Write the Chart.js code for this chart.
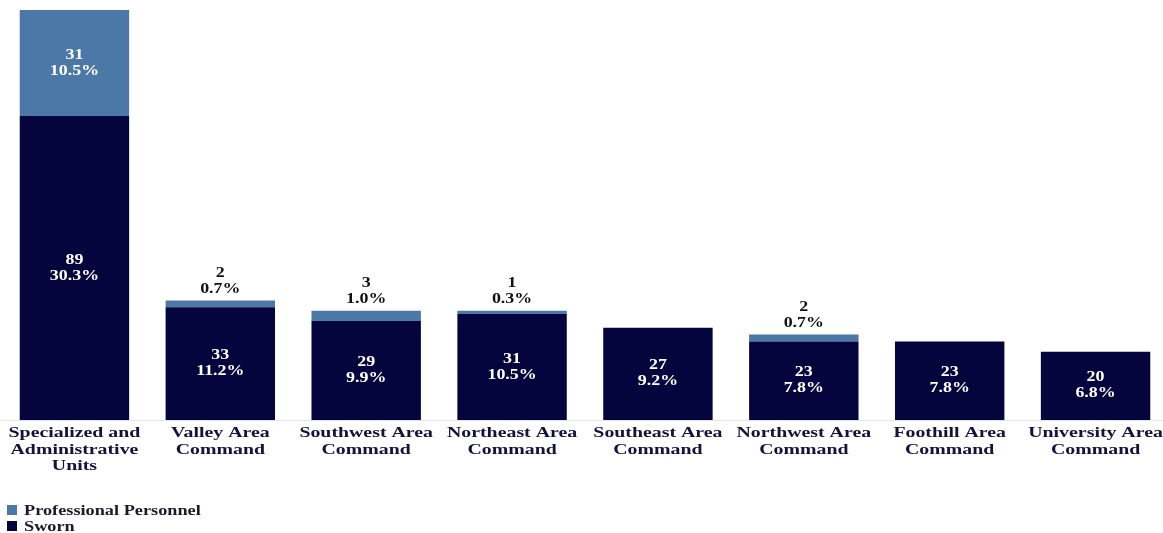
<!DOCTYPE html>
<html><head><meta charset="utf-8">
<script src="https://cdn.jsdelivr.net/npm/chart.js@4.4.0/dist/chart.umd.min.js"></script>
<style>html,body{margin:0;padding:0;background:#fff;overflow:hidden}#wrap{width:1170px;height:533px;position:relative}</style>
</head><body><div id="wrap"><canvas id="c"></canvas></div>
<script>
const categories = [["Specialized and","Administrative","Units"],["Valley Area","Command"],["Southwest Area","Command"],["Northeast Area","Command"],["Southeast Area","Command"],["Northwest Area","Command"],["Foothill Area","Command"],["University Area","Command"]];
const sworn = [89,33,29,31,27,23,23,20];
const swornPct = ["30.3%","11.2%","9.9%","10.5%","9.2%","7.8%","7.8%","6.8%"];
const professional = [31,2,3,1,0,2,0,0];
const professionalPct = ["10.5%","0.7%","1.0%","0.3%","","0.7%","",""];
const seriesNames = ["Professional Personnel","Sworn"];
const COL_PRO = "#4c78a8", COL_SW = "#05053e";
const FONT = "'Liberation Serif','Times New Roman',serif";
const SX = 1.28;

function st(ctx, text, x, y, sx){
  ctx.save(); ctx.translate(x,y); ctx.scale(sx,1); ctx.fillText(text,0,0); ctx.restore();
}

const labelPlugin = {
  id:'labels',
  afterDatasetsDraw(chart){
    const ctx = chart.ctx;
    ctx.save();
    ctx.font = "bold 14px " + FONT;
    ctx.textAlign = 'center'; ctx.textBaseline = 'middle';
    const mSw = chart.getDatasetMeta(0), mPr = chart.getDatasetMeta(1);
    sworn.forEach((v,i)=>{
      const b = mSw.data[i];
      const cy = (b.y + b.base)/2;
      ctx.fillStyle = '#ffffff';
      st(ctx, String(v), b.x, cy-8, SX);
      st(ctx, swornPct[i], b.x, cy+8, SX);
    });
    professional.forEach((v,i)=>{
      if(!v) return;
      const b = mPr.data[i];
      const h = b.base - b.y;
      if (h > 40){
        const cy = (b.y + b.base)/2;
        ctx.fillStyle = '#ffffff';
        st(ctx, String(v), b.x, cy-8, SX);
        st(ctx, professionalPct[i], b.x, cy+8, SX);
      } else {
        ctx.fillStyle = '#111111';
        st(ctx, String(v), b.x, b.y-27, SX);
        st(ctx, professionalPct[i], b.x, b.y-11, SX);
      }
    });
    // category labels
    const xs = chart.scales.x;
    ctx.fillStyle = '#12123c';
    ctx.font = "bold 15.5px " + FONT;
    categories.forEach((lines,i)=>{
      const x = xs.getPixelForValue(i);
      lines.forEach((ln,k)=> st(ctx, ln, x, 433 + k*16.5, SX));
    });
    // legend
    const items = [[seriesNames[0],COL_PRO],[seriesNames[1],COL_SW]];
    ctx.textAlign='left';
    ctx.font = "bold 14.5px " + FONT;
    items.forEach((it,k)=>{
      const y = 510 + k*16;
      ctx.fillStyle = it[1];
      ctx.fillRect(7, y-5, 10, 10);
      ctx.fillStyle = '#1a1a2a';
      st(ctx, it[0], 24, y+1, 1.26);
    });
    ctx.restore();
  }
};

new Chart(document.getElementById('c'), {
  type:'bar',
  data:{
    labels: categories,
    datasets:[
      {label:seriesNames[1], data:sworn, backgroundColor:COL_SW, borderWidth:0, categoryPercentage:0.75, barPercentage:1, stack:'s'},
      {label:seriesNames[0], data:professional, backgroundColor:COL_PRO, borderWidth:0, categoryPercentage:0.75, barPercentage:1, stack:'s'}
    ]
  },
  options:{
    responsive:true, maintainAspectRatio:false, animation:false,
    layout:{padding:{left:1.5,right:1.5,top:10,bottom:0}},
    plugins:{legend:{display:false}, tooltip:{enabled:false}},
    scales:{
      x:{stacked:true, grid:{display:false, drawTicks:false}, border:{display:true,color:'#e4e4ea'},
         ticks:{display:false},
         afterFit(s){ s.height = 113; }},
      y:{stacked:true, display:false, min:0, max:120}
    }
  },
  plugins:[labelPlugin]
});
</script></body></html>
